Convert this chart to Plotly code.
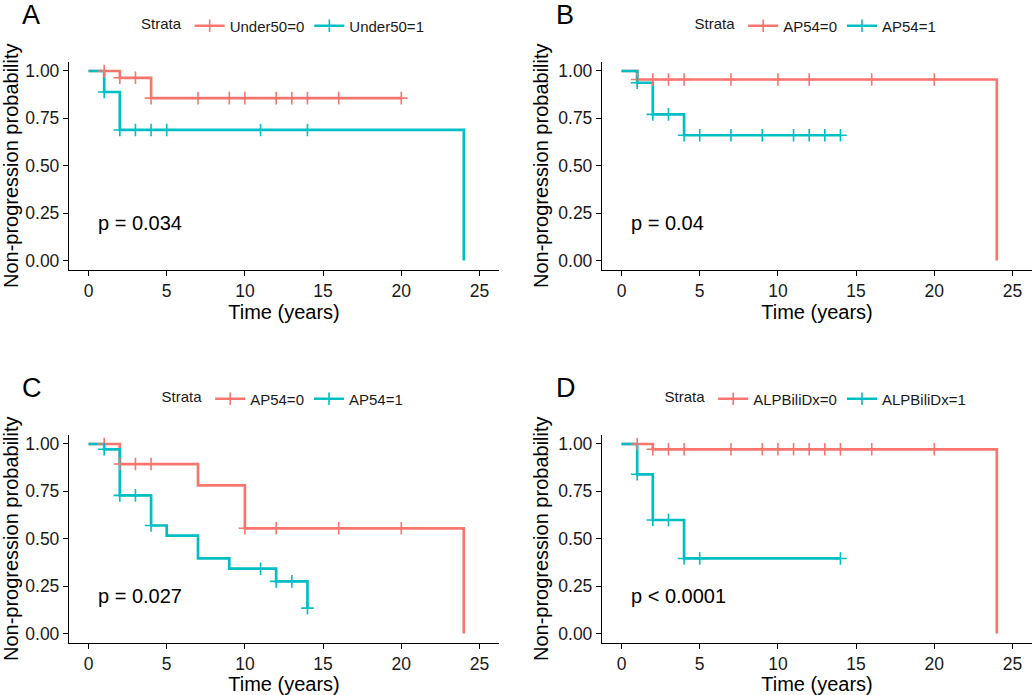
import numpy as np
import plotly.graph_objects as go

# Kaplan-Meier step data (time in years, survival after each step)
RED = "#F8766D"
TEAL = "#00BFC4"

# Panel A: Under50
a_red_times = [0, 2, 4, 20]
a_red_surv = [1.0, 0.964, 0.857, 0.857]
a_red_cens = [1, 2, 3, 4, 7, 9, 10, 12, 13, 14, 16, 20]
a_teal_times = [0, 1, 2, 24]
a_teal_surv = [1.0, 0.889, 0.689, 0.0]
a_teal_cens = [1, 2, 3, 4, 5, 11, 14]

# Panel B: AP54
b_red_times = [0, 1, 24]
b_red_surv = [1.0, 0.955, 0.0]
b_red_cens = [1, 2, 3, 4, 7, 10, 12, 16, 20]
b_teal_times = [0, 1, 2, 4, 14]
b_teal_surv = [1.0, 0.938, 0.771, 0.661, 0.661]
b_teal_cens = [1, 2, 3, 4, 5, 7, 9, 11, 12, 13, 14]

# Panel C: AP54
c_red_times = [0, 2, 7, 10, 24]
c_red_surv = [1.0, 0.894, 0.782, 0.555, 0.0]
c_red_cens = [1, 2, 3, 4, 10, 12, 16, 20]
c_teal_times = [0, 1, 2, 4, 5, 7, 9, 12, 14]
c_teal_surv = [1.0, 0.972, 0.729, 0.570, 0.516, 0.396, 0.342, 0.275, 0.134]
c_teal_cens = [1, 2, 3, 4, 11, 12, 13, 14]

# Panel D: ALPBiliDx
d_red_times = [0, 2, 24]
d_red_surv = [1.0, 0.972, 0.0]
d_red_cens = [1, 2, 3, 4, 7, 9, 10, 11, 12, 13, 14, 16, 20]
d_teal_times = [0, 1, 2, 4, 14]
d_teal_surv = [1.0, 0.840, 0.599, 0.396, 0.396]
d_teal_cens = [1, 2, 3, 4, 5, 14]

panel_letters = ["A", "B", "C", "D"]
strata_names = [("Under50=0", "Under50=1"), ("AP54=0", "AP54=1"),
                ("AP54=0", "AP54=1"), ("ALPBiliDx=0", "ALPBiliDx=1")]
pvals = ["p = 0.034", "p = 0.04", "p = 0.027", "p < 0.0001"]

panels = [
    ((a_red_times, a_red_surv, a_red_cens), (a_teal_times, a_teal_surv, a_teal_cens)),
    ((b_red_times, b_red_surv, b_red_cens), (b_teal_times, b_teal_surv, b_teal_cens)),
    ((c_red_times, c_red_surv, c_red_cens), (c_teal_times, c_teal_surv, c_teal_cens)),
    ((d_red_times, d_red_surv, d_red_cens), (d_teal_times, d_teal_surv, d_teal_cens)),
]

W, H = 1035, 695
FONT = "Liberation Sans, Arial, sans-serif"


def px(x):
    return x / W


def py(y):
    return 1 - y / H


# plot areas in screen pixels (left, right, top, bottom)
boxes = [(69, 499, 61.5, 270), (602, 1032, 61.5, 270),
         (69, 499, 434.5, 643), (602, 1032, 434.5, 643)]


def step_value(times, surv, t):
    idx = np.searchsorted(np.asarray(times, dtype=float), t, side="right") - 1
    return np.asarray(surv)[idx]


fig = go.Figure()
layout = dict(
    width=W, height=H, margin=dict(l=0, r=0, t=0, b=0),
    paper_bgcolor="white", plot_bgcolor="white",
    font=dict(family=FONT, color="#111111"),
    annotations=[],
)

for i, (curves, names) in enumerate(zip(panels, strata_names)):
    n = "" if i == 0 else str(i + 1)
    xa, ya = "x" + n, "y" + n
    lg = "legend" + n
    colors = [RED, TEAL]
    # step lines (red first, teal drawn on top)
    for (times, surv, cens), col in zip(curves, colors):
        fig.add_trace(go.Scatter(
            x=times, y=surv, mode="lines", line=dict(color=col, width=2.7, shape="hv"),
            xaxis=xa, yaxis=ya, showlegend=False, hoverinfo="skip"))
    # censor marks
    for (times, surv, cens), col in zip(curves, colors):
        fig.add_trace(go.Scatter(
            x=cens, y=step_value(times, surv, np.asarray(cens, dtype=float)),
            mode="markers",
            marker=dict(symbol="cross-thin", size=9, line=dict(color=col, width=1.6)),
            xaxis=xa, yaxis=ya, showlegend=False, hoverinfo="skip"))
    # legend entries
    for name, col in zip(names, colors):
        fig.add_trace(go.Scatter(
            x=[None], y=[None], mode="lines+markers", name=name,
            line=dict(color=col, width=2.7),
            marker=dict(symbol="cross-thin", size=9, line=dict(color=col, width=1.6)),
            xaxis=xa, yaxis=ya, legend=lg, showlegend=True))

    l, r, t, b = boxes[i]
    layout["xaxis" + n] = dict(
        domain=[px(l), px(r)], anchor=ya, range=[-1.25, 26.25],
        tickvals=[0, 5, 10, 15, 20, 25], showgrid=False, zeroline=False,
        showline=True, linecolor="black", linewidth=1.3,
        ticks="outside", ticklen=5, tickwidth=1.3, tickcolor="black",
        tickfont=dict(size=17.5, color="#1a1a1a"),
        title=dict(text="Time (years)", font=dict(size=20, color="black"), standoff=0),
        automargin=False)
    layout["yaxis" + n] = dict(
        domain=[py(b), py(t)], anchor=xa, range=[-0.05, 1.05],
        tickvals=[0, 0.25, 0.5, 0.75, 1.0], tickformat=".2f",
        showgrid=False, zeroline=False,
        showline=True, linecolor="black", linewidth=1.3,
        ticks="outside", ticklen=5, tickwidth=1.3, tickcolor="black",
        tickfont=dict(size=17.5, color="#1a1a1a"),
        title=dict(text="Non-progression probability", font=dict(size=20, color="black"), standoff=4),
        automargin=False)
    layout[lg] = dict(
        orientation="h", x=px((l + r) / 2), xanchor="center",
        y=py(26 if i < 2 else 399), yanchor="middle",
        title=dict(text="Strata", side="left", font=dict(size=15)),
        font=dict(size=15, color="#1a1a1a"), bgcolor="rgba(0,0,0,0)",
        itemwidth=30, tracegroupgap=0)
    # p-value
    layout["annotations"].append(dict(
        x=0.5, y=0.2, xref=xa, yref=ya, text=pvals[i], showarrow=False,
        xanchor="left", yanchor="middle", font=dict(size=20, color="black")))
    # panel letter
    layout["annotations"].append(dict(
        x=px(20 if i % 2 == 0 else 554), y=py(15 if i < 2 else 388),
        xref="paper", yref="paper", text=panel_letters[i], showarrow=False,
        xanchor="left", yanchor="middle", font=dict(size=27, color="black")))

fig.update_layout(**layout)
# drop the default 8px body margin so the figure fills the window exactly
fig.write_html("out.html", config={"displayModeBar": False},
               post_script="document.body.style.margin='0px';")
